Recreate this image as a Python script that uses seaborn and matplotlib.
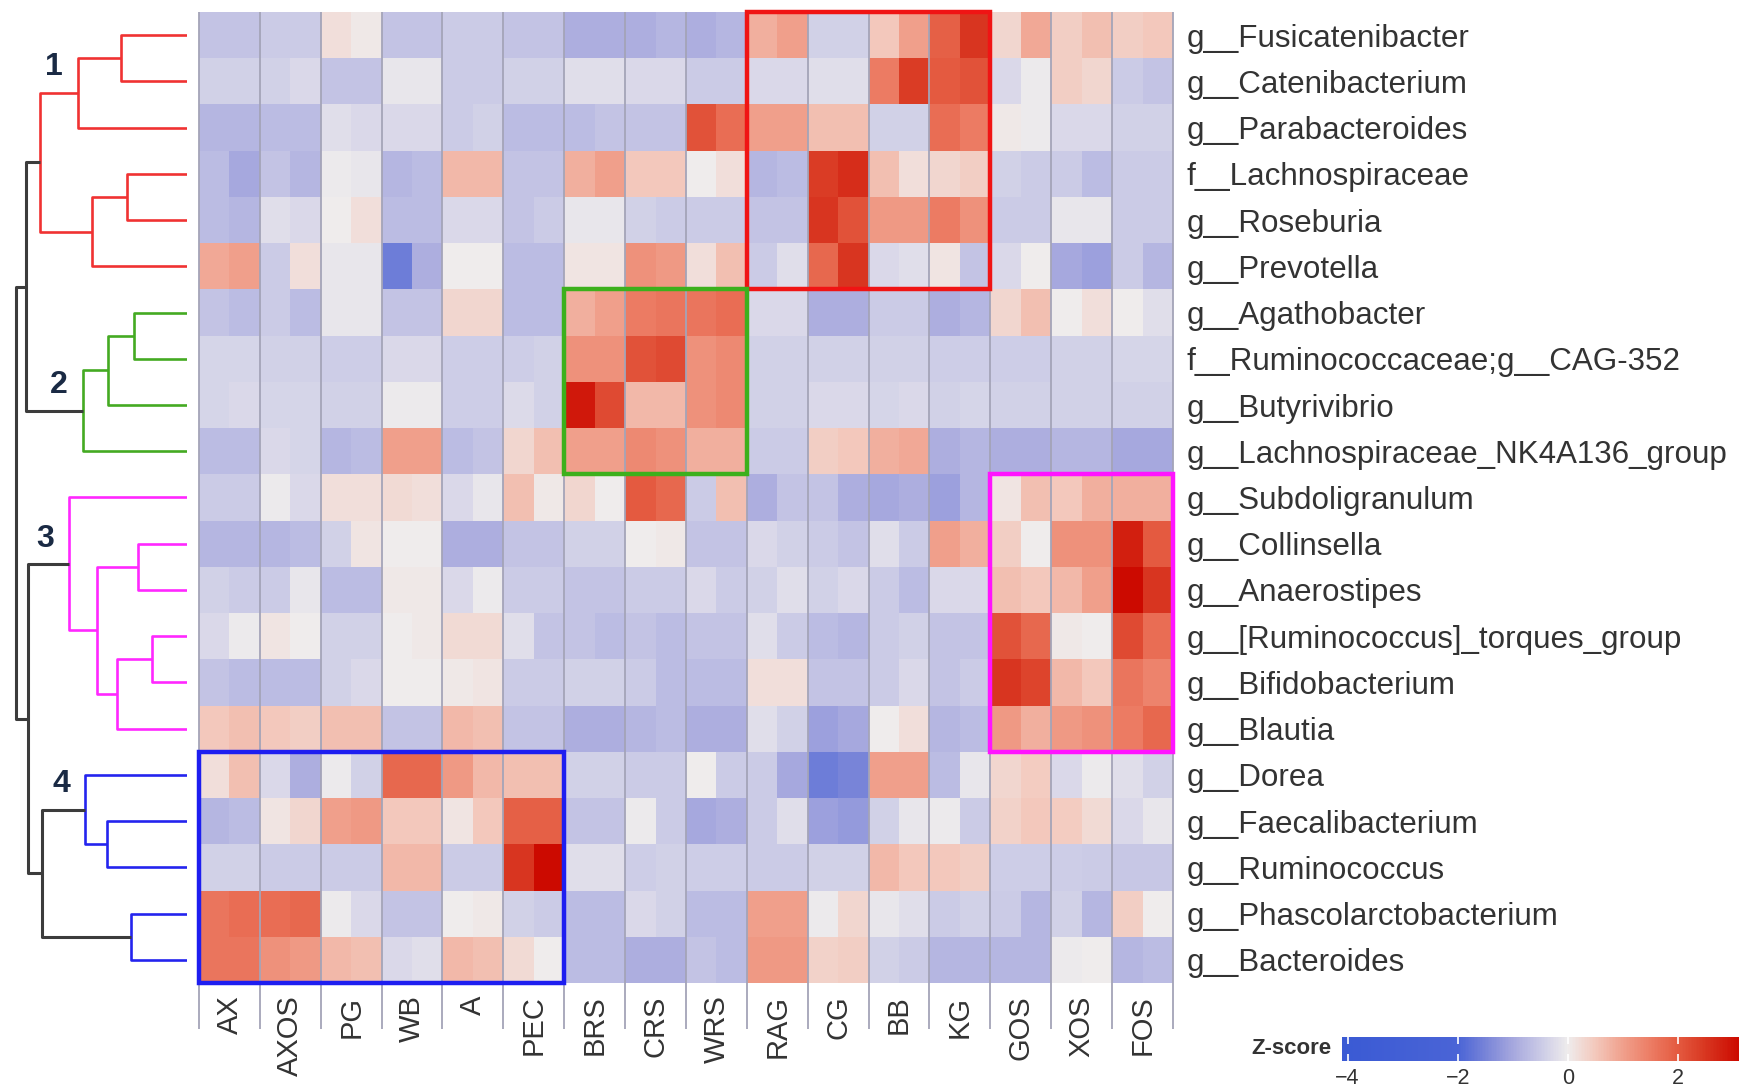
import numpy as np
import pandas as pd
import matplotlib
matplotlib.use("Agg")
import matplotlib.pyplot as plt
import seaborn as sb
from matplotlib.colors import LinearSegmentedColormap
from matplotlib.patches import Rectangle

plt.rcParams['font.family'] = ['Liberation Sans', 'DejaVu Sans']

# taxa in dendrogram order (top to bottom)
taxa = ['g__Fusicatenibacter', 'g__Catenibacterium', 'g__Parabacteroides',
        'f__Lachnospiraceae', 'g__Roseburia', 'g__Prevotella',
        'g__Agathobacter', 'f__Ruminococcaceae;g__CAG-352', 'g__Butyrivibrio',
        'g__Lachnospiraceae_NK4A136_group',
        'g__Subdoligranulum', 'g__Collinsella', 'g__Anaerostipes',
        'g__[Ruminococcus]_torques_group', 'g__Bifidobacterium', 'g__Blautia',
        'g__Dorea', 'g__Faecalibacterium', 'g__Ruminococcus',
        'g__Phascolarctobacterium', 'g__Bacteroides']

# fibre substrates, two replicate columns each
substrates = ['AX', 'AXOS', 'PG', 'WB', 'A', 'PEC', 'BRS', 'CRS', 'WRS',
              'RAG', 'CG', 'BB', 'KG', 'GOS', 'XOS', 'FOS']

# z-scores, one list per taxon (32 = 16 substrates x 2 replicates)
cluster1_z = [
    [-0.6, -0.6, -0.5, -0.5, 0.2, 0.05, -0.6, -0.6, -0.5, -0.5, -0.6, -0.6, -0.9, -0.9, -0.9, -0.8,
     -0.9, -0.8, 0.8, 1.0, -0.4, -0.4, 0.5, 1.0, 1.9, 2.5, 0.3, 0.9, 0.4, 0.6, 0.4, 0.5],
    [-0.4, -0.4, -0.4, -0.3, -0.6, -0.6, -0.1, -0.1, -0.5, -0.5, -0.4, -0.4, -0.2, -0.2, -0.3, -0.3,
     -0.5, -0.5, -0.3, -0.3, -0.2, -0.2, 1.5, 2.4, 2.0, 2.1, -0.3, -0.05, 0.4, 0.3, -0.5, -0.6],
    [-0.8, -0.8, -0.7, -0.7, -0.2, -0.3, -0.3, -0.3, -0.5, -0.4, -0.7, -0.7, -0.7, -0.6, -0.6, -0.6,
     2.1, 1.7, 1.0, 1.0, 0.6, 0.6, -0.4, -0.4, 1.7, 1.5, 0.05, -0.05, -0.3, -0.3, -0.4, -0.4],
    [-0.7, -1.0, -0.6, -0.8, -0.05, -0.1, -0.8, -0.7, 0.7, 0.7, -0.6, -0.6, 0.8, 1.0, 0.5, 0.5,
     0.0, 0.2, -0.8, -0.7, 2.4, 2.6, 0.6, 0.2, 0.3, 0.4, -0.4, -0.5, -0.5, -0.7, -0.5, -0.5],
    [-0.7, -0.8, -0.2, -0.3, 0.0, 0.2, -0.7, -0.7, -0.3, -0.3, -0.6, -0.5, -0.1, -0.1, -0.4, -0.5,
     -0.5, -0.5, -0.6, -0.6, 2.5, 2.1, 1.1, 1.1, 1.5, 1.2, -0.5, -0.5, -0.1, -0.1, -0.5, -0.5],
    [0.9, 1.0, -0.5, 0.2, -0.1, -0.1, -1.6, -0.9, 0.0, 0.0, -0.7, -0.7, 0.1, 0.1, 1.2, 1.1,
     0.2, 0.6, -0.5, -0.2, 1.8, 2.5, -0.3, -0.2, 0.1, -0.6, -0.3, 0.0, -1.0, -1.1, -0.5, -0.8],
]
cluster2_z = [
    [-0.6, -0.7, -0.5, -0.7, -0.1, -0.1, -0.6, -0.6, 0.3, 0.3, -0.7, -0.7, 0.8, 1.0, 1.5, 1.6,
     1.6, 1.7, -0.3, -0.3, -0.9, -0.9, -0.5, -0.5, -0.9, -0.8, 0.3, 0.6, 0.0, 0.2, 0.0, -0.2],
    [-0.35, -0.35, -0.4, -0.4, -0.45, -0.45, -0.3, -0.3, -0.45, -0.45, -0.45, -0.4, 1.2, 1.2, 2.1, 2.2,
     1.2, 1.3, -0.4, -0.4, -0.4, -0.4, -0.4, -0.4, -0.45, -0.45, -0.45, -0.45, -0.4, -0.4, -0.35, -0.35],
    [-0.35, -0.3, -0.35, -0.35, -0.4, -0.4, -0.05, -0.05, -0.45, -0.45, -0.25, -0.4, 2.9, 2.2, 0.7, 0.7,
     1.2, 1.3, -0.4, -0.4, -0.3, -0.3, -0.35, -0.3, -0.4, -0.35, -0.4, -0.4, -0.4, -0.4, -0.4, -0.4],
    [-0.7, -0.7, -0.3, -0.35, -0.8, -0.7, 1.0, 1.0, -0.7, -0.6, 0.3, 0.6, 1.0, 1.0, 1.3, 1.2,
     0.8, 0.8, -0.5, -0.5, 0.4, 0.5, 0.8, 0.9, -0.9, -0.8, -0.9, -0.9, -0.8, -0.8, -1.0, -1.0],
]
cluster3_z = [
    [-0.5, -0.5, -0.05, -0.3, 0.2, 0.2, 0.25, 0.2, -0.3, -0.1, 0.6, 0.05, 0.3, 0.0, 2.0, 1.8,
     -0.5, 0.6, -0.9, -0.6, -0.6, -0.9, -1.0, -0.9, -1.1, -0.8, 0.1, 0.6, 0.5, 0.8, 0.8, 0.8],
    [-0.8, -0.8, -0.8, -0.7, -0.4, 0.1, 0.0, 0.0, -0.9, -0.9, -0.6, -0.6, -0.4, -0.4, 0.0, 0.05,
     -0.6, -0.6, -0.3, -0.4, -0.5, -0.6, -0.2, -0.5, 1.0, 0.8, 0.4, 0.0, 1.2, 1.2, 2.8, 2.0],
    [-0.4, -0.5, -0.5, -0.1, -0.7, -0.7, 0.05, 0.05, -0.3, -0.05, -0.5, -0.5, -0.6, -0.6, -0.5, -0.5,
     -0.3, -0.5, -0.4, -0.2, -0.4, -0.3, -0.5, -0.7, -0.3, -0.3, 0.6, 0.5, 0.7, 1.0, 3.1, 2.5],
    [-0.3, -0.05, 0.1, 0.0, -0.4, -0.4, 0.0, 0.05, 0.25, 0.25, -0.2, -0.6, -0.6, -0.7, -0.6, -0.7,
     -0.6, -0.6, -0.2, -0.5, -0.7, -0.8, -0.5, -0.4, -0.6, -0.6, 2.1, 1.8, 0.05, 0.0, 2.2, 1.7],
    [-0.6, -0.7, -0.7, -0.7, -0.4, -0.3, 0.0, 0.0, 0.05, 0.1, -0.5, -0.5, -0.4, -0.4, -0.5, -0.7,
     -0.7, -0.7, 0.2, 0.2, -0.6, -0.6, -0.5, -0.3, -0.6, -0.5, 2.5, 2.3, 0.7, 0.5, 1.6, 1.4],
    [0.5, 0.6, 0.5, 0.4, 0.6, 0.6, -0.6, -0.6, 0.7, 0.6, -0.6, -0.6, -0.9, -0.9, -0.8, -0.7,
     -0.9, -0.9, -0.2, -0.4, -1.1, -1.0, 0.0, 0.2, -0.8, -0.7, 1.1, 0.8, 1.1, 1.2, 1.5, 1.8],
]
cluster4_z = [
    [0.2, 0.6, -0.3, -0.9, -0.05, -0.4, 1.8, 1.8, 1.1, 0.7, 0.6, 0.6, -0.4, -0.4, -0.5, -0.5,
     0.0, -0.5, -0.5, -1.0, -1.6, -1.5, 1.0, 1.0, -0.7, -0.1, 0.3, 0.45, -0.3, -0.05, -0.2, -0.4],
    [-0.8, -0.7, 0.1, 0.3, 1.0, 1.1, 0.5, 0.5, 0.1, 0.5, 1.9, 1.9, -0.6, -0.6, -0.05, -0.5,
     -1.0, -0.9, -0.5, -0.2, -1.1, -1.2, -0.4, -0.1, -0.05, -0.5, 0.35, 0.5, 0.45, 0.25, -0.3, -0.1],
    [-0.4, -0.4, -0.5, -0.5, -0.5, -0.5, 0.7, 0.7, -0.5, -0.5, 2.5, 3.1, -0.2, -0.2, -0.45, -0.4,
     -0.45, -0.45, -0.5, -0.5, -0.4, -0.4, 0.7, 0.5, 0.5, 0.4, -0.45, -0.45, -0.45, -0.5, -0.55, -0.55],
    [1.6, 1.7, 1.7, 1.8, -0.05, -0.3, -0.6, -0.6, 0.0, 0.05, -0.4, -0.5, -0.7, -0.7, -0.3, -0.4,
     -0.7, -0.7, 1.0, 1.0, -0.05, 0.3, -0.1, -0.2, -0.5, -0.4, -0.5, -0.8, -0.4, -0.8, 0.4, 0.0],
    [1.6, 1.6, 1.2, 1.1, 0.7, 0.6, -0.3, -0.2, 0.7, 0.6, 0.25, 0.0, -0.7, -0.7, -0.9, -0.9,
     -0.6, -0.7, 1.1, 1.1, 0.35, 0.4, -0.4, -0.5, -0.8, -0.8, -0.8, -0.8, -0.05, 0.0, -0.8, -0.7],
]

# leaf clusters (cluster 4 is made of two sub-branches joined above the cut)
leaf_cluster = ['1'] * 6 + ['2'] * 4 + ['3'] * 6 + ['4a'] * 3 + ['4b'] * 2

# row dendrogram merges: (child a, child b, height); nodes >= 21 are earlier merges
merges = [
    (0, 1, 6.6), (21, 2, 10.9), (3, 4, 6.0), (23, 5, 9.5), (22, 24, 14.7),
    (6, 7, 5.3), (26, 8, 7.9), (27, 9, 10.4), (25, 28, 16.1),
    (11, 12, 4.9), (13, 14, 3.5), (31, 15, 7.0), (30, 32, 9.0), (10, 33, 11.8),
    (17, 18, 8.0), (16, 35, 10.2), (19, 20, 5.6), (36, 37, 14.5),
    (34, 38, 15.9), (29, 39, 17.1),
]
# cluster number -> node it is written next to
cluster_labels = [('1', 22), ('2', 28), ('3', 34), ('4', 36)]

# boxes: substrates x taxon cluster
boxes = [(['RAG', 'CG', 'BB', 'KG'], '1', '#f01414'),
         (['BRS', 'CRS', 'WRS'], '2', '#3cb01c'),
         (['GOS', 'XOS', 'FOS'], '3', '#ff14ff'),
         (['AX', 'AXOS', 'PG', 'WB', 'A', 'PEC'], '4', '#1e1ef0')]

link_colors = {'1': '#f03232', '2': '#44aa22', '3': '#ff28ff', '4': '#2424ee'}

columns = [f'{s}_{r}' for s in substrates for r in (1, 2)]
zscore = pd.DataFrame(cluster1_z + cluster2_z + cluster3_z + cluster4_z,
                      index=taxa, columns=columns)

vmin, vmax = -4.1, 3.1
anchors = [(-4.1, '#3a5ad4'), (-2.0, '#4a64d6'), (-1.5, '#7884d8'), (-1.0, '#a6a8de'),
           (-0.5, '#cacae6'), (0.0, '#efecec'), (0.5, '#f3c8bc'), (1.0, '#f0a08c'),
           (1.5, '#ec7c64'), (2.0, '#e45a40'), (2.5, '#d83620'), (3.1, '#cc0a00')]
cmap = LinearSegmentedColormap.from_list(
    'zscore', [((v - vmin) / (vmax - vmin), c) for v, c in anchors])

W, H = 1739, 1088
fig = plt.figure(figsize=(W / 100, H / 100), dpi=100)


def px_axes(x0, y0, x1, y1):
    return fig.add_axes([x0 / W, 1 - y1 / H, (x1 - x0) / W, (y1 - y0) / H])


# heatmap
ax = px_axes(199, 12, 1173, 983)
sb.heatmap(zscore, ax=ax, cmap=cmap, vmin=vmin, vmax=vmax, cbar=False,
           xticklabels=False, yticklabels=taxa)
n_rows, n_cols = zscore.shape
ax.yaxis.tick_right()
ax.set_yticks(np.arange(n_rows) + 0.5)
ax.set_yticklabels(taxa, rotation=0, ha='left', fontsize=22.6, color='#333333')
ax.set_xticks(np.arange(1, n_cols, 2))
ax.set_xticklabels(substrates, rotation=90, fontsize=21, color='#333333')
ax.tick_params(axis='y', length=0, pad=10)
ax.tick_params(axis='x', length=0, pad=9)
ax.set_xlabel('')
ax.set_ylabel('')

# separators between substrates
ax.vlines(np.arange(0, n_cols + 1, 2), 0, n_rows + 1.0, colors='#a4a4b8',
          lw=1.3, clip_on=False, zorder=3)

# cluster boxes
for subs, clus, col in boxes:
    cols = [substrates.index(s) * 2 for s in subs]
    rows = [i for i, c in enumerate(leaf_cluster) if c[0] == clus]
    x0, x1 = min(cols), max(cols) + 2
    y0, y1 = min(rows), max(rows) + 1
    ax.add_patch(Rectangle((x0, y0), x1 - x0, y1 - y0, fill=False, ec=col,
                           lw=3.2, clip_on=False, zorder=4))

# row dendrogram
dax = px_axes(0, 12, 187, 983)
dax.set_xlim(18.7, 0)
dax.set_ylim(n_rows, 0)
dax.axis('off')
pos = {i: i + 0.5 for i in range(n_rows)}
height = {i: 0.0 for i in range(n_rows)}
clus_of = {i: c for i, c in enumerate(leaf_cluster)}
for k, (a, b, h) in enumerate(merges):
    node = n_rows + k
    same = clus_of[a] is not None and clus_of[a] == clus_of[b]
    colour = link_colors[clus_of[a][0]] if same else '#3c3c3c'
    lw = 1.9 if same else 2.2
    dax.plot([height[a], h, h, height[b]], [pos[a], pos[a], pos[b], pos[b]],
             color=colour, lw=lw, solid_capstyle='butt')
    pos[node] = (pos[a] + pos[b]) / 2
    height[node] = h
    clus_of[node] = clus_of[a] if same else None

for lab, node in cluster_labels:
    dax.text(height[node] + 2.4, pos[node] - 0.55, lab, fontsize=23,
             fontweight='semibold', color='#1a2a44', ha='center', va='center')

# colour key
cax = px_axes(1342, 1037, 1739, 1061)
cb = fig.colorbar(ax.collections[0], cax=cax, orientation='horizontal')
cb.outline.set_visible(False)
cb.set_ticks([-4, -2, 0, 2])
cax.tick_params(axis='x', color='white', labelcolor='#333333', direction='in',
                length=5, width=1.2, labelsize=15.5, pad=5, top=True, labeltop=False)
fig.text(1331 / W, 1 - 1049 / H, 'Z-score', ha='right', va='center',
         fontsize=16, fontweight='bold', color='#333333')

fig.savefig('out.png', dpi=100)
